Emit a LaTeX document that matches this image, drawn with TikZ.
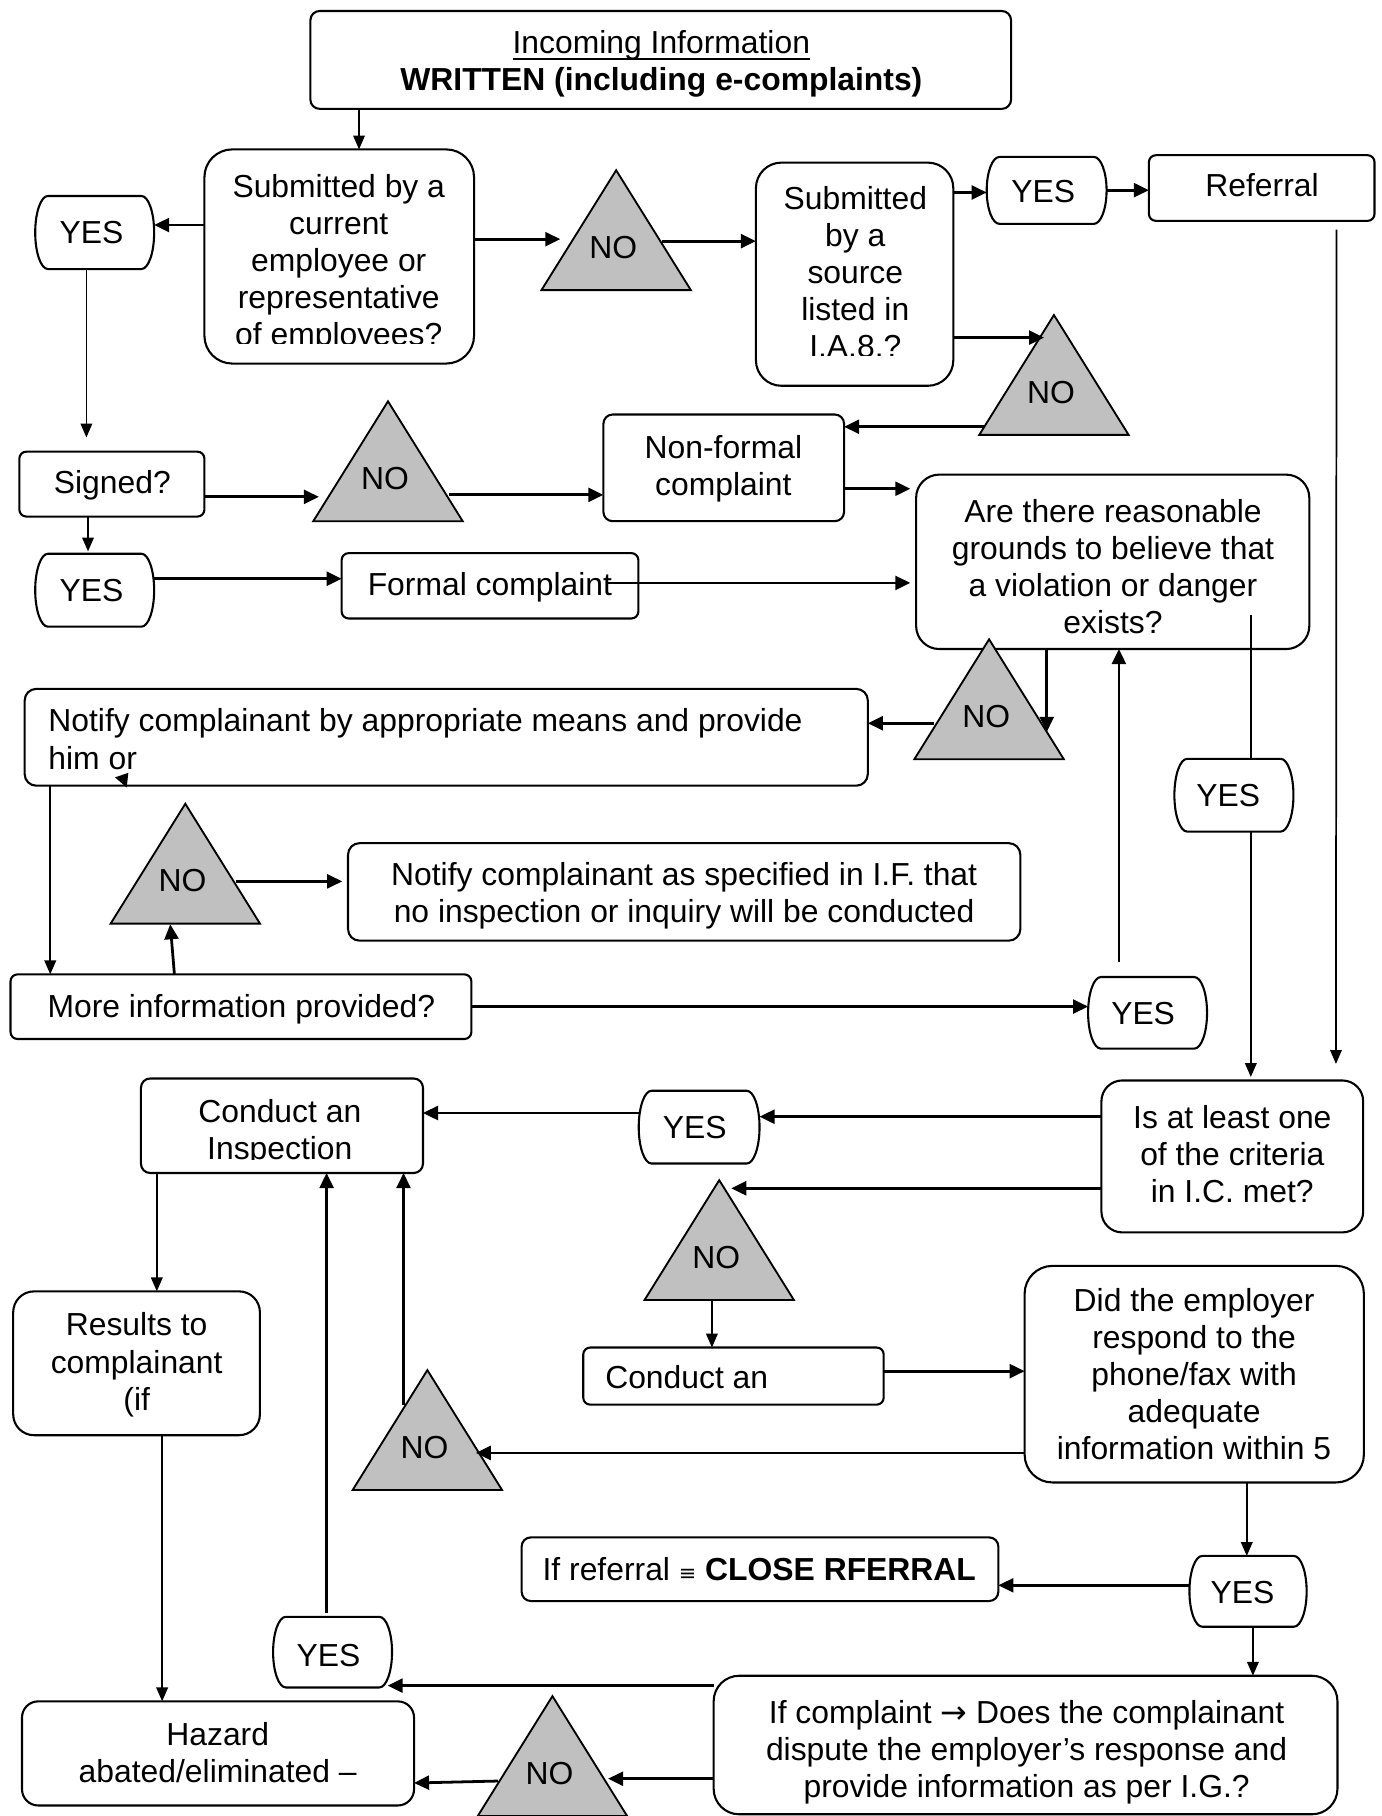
\documentclass[tikz,border=0pt]{standalone}
\usepackage{fontspec}
\setmainfont{Liberation Sans}
\newfontfamily\djv{DejaVu Sans}
\usetikzlibrary{arrows.meta,calc}
\definecolor{trigrey}{HTML}{C0C0C0}
\newcommand\ST{\rule[-7.5pt]{0pt}{32pt}}
\newcommand\ulx[1]{\setbox0=\hbox{#1}\rlap{\rule[-5.2pt]{\wd0}{1.6pt}}\box0}
\tikzset{
  ff/.style={font=\fontsize{27.5}{32}\selectfont},
  bline/.style={line width=1.8pt},
  rbox/.style={draw, line width=1.8pt, rounded corners=#1, inner sep=0pt, outer sep=0pt},
  rbox/.default=8pt,
  txt/.style={inner sep=0pt, outer sep=0pt, align=center, ff},
  tri/.style={fill=trigrey, draw, line width=1.6pt, line join=miter},
  arr/.style={line width=2.4pt, -{Triangle[length=13pt,width=12pt]}},
  tarr/.style={line width=1.5pt, -{Triangle[length=12pt,width=10pt]}},
  tline/.style={line width=1.5pt},
}
% box: name, x1, y1, x2, y2, corner radius
\newcommand\bx[6]{%
  \node[rbox=#6pt, minimum width=#4pt-#2pt, minimum height=#5pt-#3pt] (#1) at ({(#2+#4)/2},{(#3+#5)/2}) {};}
% yes box: name, cx, cy, w, h, text x, text y
\newcommand\yesb[7]{%
  \node[inner sep=0pt, outer sep=0pt, minimum width=#4pt, minimum height=#5pt] (#1) at (#2,#3) {};
  \pgfmathsetmacro\yry{#5/2}%
  \draw[bline] ($(#1.north west)+(11pt,0)$) -- ($(#1.north east)+(-11pt,0)$)
    arc[start angle=90, end angle=-90, x radius=11pt, y radius=\yry pt]
    -- ($(#1.south west)+(11pt,0)$)
    arc[start angle=270, end angle=90, x radius=11pt, y radius=\yry pt] -- cycle;
  \node[txt] (#1t) at (#6,#7) {\ST YES};}
% NO triangle: name, apex x, apex y
\newcommand\notri[3]{%
  \draw[tri] (#2,#3) -- ({#2+64.5},{#3+103.5}) -- ({#2-64.5},{#3+103.5}) -- cycle;
  \node[txt] (#1) at ({#2-2.5},{#3+67.5}) {\ST NO};}
\begin{document}
\begin{tikzpicture}[x=1pt,y=-1pt]
\useasboundingbox (0,0) rectangle (1193,1568);
\fill[white] (0,0) rectangle (1193,1568);

% ---------- boxes
\bx{top}{268}{9.5}{873}{94}{8}
\bx{b1}{176.5}{129}{409.3}{313.9}{24}
\bx{b8}{652.7}{140.4}{823.1}{333.1}{22}
\bx{ref}{992}{134}{1186.8}{190.7}{6}
\bx{nf}{521}{357.9}{728.8}{450}{8}
\bx{sig}{16.7}{390}{176.5}{446}{6}
\bx{are}{791}{409.8}{1130.5}{560.4}{20}
\bx{formal}{295}{477.6}{551.2}{534}{6}
\bx{nt1}{21.3}{594.8}{749.3}{678.4}{10}
\bx{nt2}{300.5}{728}{881}{812.2}{10}
\bx{more}{9.1}{841.3}{407}{897.1}{6}
\bx{ci}{121.7}{931.2}{365.2}{1012.8}{8}
\bx{isl}{951}{932.9}{1177}{1064.1}{18}
\bx{ca}{503.6}{1163.5}{763}{1212.8}{6}
\bx{did}{884.7}{1093}{1177.6}{1280}{24}
\bx{res}{11.4}{1115}{224.4}{1239.2}{18}
\bx{haz}{19}{1469}{357.5}{1558.9}{14}
\bx{ifr}{450.4}{1327.4}{862}{1382.4}{8}
\bx{comp}{616.2}{1446.9}{1154.8}{1566.5}{22}

% ---------- YES boxes
\yesb{y1}{81.75}{200.75}{102.7}{63.1}{79.1}{202}
\yesb{ytr}{903.7}{164.4}{103.5}{57.8}{900.7}{166.6}
\yesb{y2}{81.75}{509.6}{102.7}{63}{79.1}{511}
\yesb{y4}{1065.4}{686.6}{102.8}{62.8}{1060.5}{688}
\yesb{y3}{990.85}{874.5}{102.7}{61.8}{987}{876.4}
\yesb{y5}{603.65}{973.2}{104.3}{62.8}{599.8}{974.6}
\yesb{y7}{1077.6}{1374}{101.2}{61.1}{1072.7}{1375.6}
\yesb{y6}{287.15}{1426.5}{102.7}{61}{283.7}{1430}

% ---------- NO triangles
\notri{t1}{532}{147}
\notri{t2}{910}{272}
\notri{t3}{335}{346.5}
\notri{t4}{854}{552}
\notri{t5}{160}{694}
\notri{t6}{621}{1019}
\notri{t7}{369}{1183}
\notri{t8}{477}{1464.5}

% ---------- texts
\node[txt] (topt) at (571,53.8) {\ST\ulx{Incoming Information}\\\textbf{WRITTEN (including e-complaints)}\ST};
\begin{scope}
  \clip (176.5,129) rectangle (409.3,296.5);
  \node[txt] (b1t) at (292.5,226) {\ST Submitted by a\\current\\employee or\\representative\\of employees?\ST};
\end{scope}
\begin{scope}
  \clip (652.7,140.4) rectangle (823.1,307.3);
  \node[txt] (b8t) at (738.5,236.5) {\ST Submitted\\by a\\source\\listed in\\I.A.8.?\ST};
\end{scope}
\node[txt] (reft) at (1089.7,161.5) {\ST Referral};
\node[txt] (nft) at (624.6,403.5) {\ST Non-formal\\complaint\ST};
\node[txt] (sigt) at (97,417.8) {\ST Signed?};
\node[txt] (aret) at (961,490.5) {\ST Are there reasonable\\grounds to believe that\\a violation or danger\\exists?\ST};
\node[txt] (formalt) at (423,506) {\ST Formal complaint};
\node[txt, anchor=west, align=left] (nt1t) at (41.8,639.5) {\ST Notify complainant by appropriate means and provide\\him or\ST};
\node[txt] (nt2t) at (590.7,772) {\ST Notify complainant as specified in I.F. that\\no inspection or inquiry will be conducted\ST};
\node[txt] (moret) at (208.4,870) {\ST More information provided?};
\begin{scope}
  \clip (121.7,931.2) rectangle (365.2,1001);
  \node[txt] (cit) at (241.6,976.5) {\ST Conduct an\\Inspection\ST};
\end{scope}
\node[txt] (islt) at (1064,997.7) {\ST Is at least one\\of the criteria\\in I.C. met?\ST};
\node[txt, anchor=west] (cat) at (522.6,1190) {\ST Conduct an};
\node[txt] (didt) at (1031,1188) {\ST Did the employer\\respond to the\\phone/fax with\\adequate\\information within 5\ST};
\node[txt] (rest) at (118,1177) {\ST Results to\\complainant\\(if\ST};
\node[txt] (hazt) at (188,1514.5) {\ST Hazard\\abated/eliminated –\ST};
\node[txt] (ifrt) at (655.6,1356) {\ST If referral {\djv\fontsize{18}{32}\selectfont ≡} \textbf{CLOSE RFERRAL}};
\node[txt] (compt) at (886.4,1511.7) {\ST If complaint {\djv →} Does the complainant\\dispute the employer’s response and\\provide information as per I.G.?\ST};

% ---------- connectors
\draw[tarr] (top.south -| 310,0) -- (b1.north -| 310,0);
\draw[arr] (b1.west |- 0,194.3) -- (y1.east |- 0,194.3);
\draw[arr] (b1.east |- 0,206.5) -- (483.8,206.5);
\draw[arr] (572,208.2) -- (b8.west |- 0,208.2);
\draw[arr] (b8.east |- 0,166.2) -- (ytr.west |- 0,166.2);
\draw[arr] (ytr.east |- 0,164.2) -- (ref.west |- 0,164.2);
\coordinate (r1) at (1154,198.3);
\coordinate (r2) at (1153.5,918.6);
\draw[tarr] (r1) -- (r2);
\draw[arr] (b8.east |- 0,291.5) -- (901.5,291.5);
\draw[arr] (850.5,368.5) -- (nf.east |- 0,368.5);
\coordinate (s1) at (74.6,377.7);
\draw[tarr] (y1.south -| 74.6,0) -- (s1);
\draw[arr] (sig.east |- 0,429) -- (275.4,429);
\draw[arr] (388,427.3) -- (nf.west |- 0,427.3);
\draw[arr, shorten >=5pt] (nf.east |- 0,422) -- (are.west |- 0,422);
\draw[tarr, shorten >=2pt] (sig.south -| 76,0) -- (y2.north -| 76,0);
\draw[arr] (y2.east |- 0,499.7) -- (formal.west |- 0,499.7);
\coordinate (f1) at (524,503.3);
\draw[arr, shorten >=5pt] (f1) -- (are.west |- 0,503.3);
\coordinate (a1) at (903.8,632);
\draw[arr] (are.south -| 903.8,0) -- (a1);
\draw[arr] (806.4,624.5) -- (nt1.east |- 0,624.5);
\fill (99.3,671.2) -- (110.8,667.3) -- (109.4,679.9) -- cycle;
\draw[tarr] (nt1.south -| 43.4,0) -- (more.north -| 43.4,0);
\draw[arr] (more.north -| 150.6,0) -- (147,798);
\draw[arr, shorten >=5pt] (203.9,761) -- (nt2.west |- 0,761);
\draw[arr] (more.east |- 0,869.1) -- (y3.west |- 0,869.1);
\coordinate (y3a) at (966.1,830.4);
\draw[arr] (y3a) -- (are.south -| 966.1,0);
\coordinate (a2) at (1080.3,531.3);
\draw[tline] (a2) -- (y4.north -| 1080.3,0);
\draw[tarr, shorten >=3pt] (y4.south -| 1080,0) -- (isl.north -| 1080,0);
\draw[arr] (isl.west |- 0,964.2) -- (y5.east |- 0,964.2);
\draw[arr] (y5.west |- 0,961) -- (ci.east |- 0,961);
\draw[arr] (isl.west |- 0,1026) -- (631.4,1026);
\draw[tarr] (614.7,1122.8) -- (ca.north -| 614.7,0);
\draw[arr] (ca.east |- 0,1183.9) -- (did.west |- 0,1183.9);
\draw[arr] (did.west |- 0,1254.5) -- (410.8,1254.5);
\draw[arr] (348.4,1212.8) -- (ci.south -| 348.4,0);
\coordinate (y6a) at (282,1392.6);
\draw[arr] (y6a) -- (ci.south -| 282,0);
\draw[tarr] (ci.south -| 135.4,0) -- (res.north -| 135.4,0);
\draw[tarr] (res.south -| 140,0) -- (haz.north -| 140,0);
\draw[tarr] (did.south -| 1076.5,0) -- (y7.north -| 1076.5,0);
\draw[arr] (y7.west |- 0,1368.8) -- (ifr.east |- 0,1368.8);
\draw[tarr] (y7.south -| 1081.8,0) -- (comp.north -| 1081.8,0);
\draw[arr] (comp.west |- 0,1455.4) -- (334.7,1455.4);
\draw[arr] (comp.west |- 0,1535.8) -- (525,1535.8);
\draw[arr] (429.8,1537.8) -- (haz.east |- 0,1539.5);
\end{tikzpicture}
\end{document}
